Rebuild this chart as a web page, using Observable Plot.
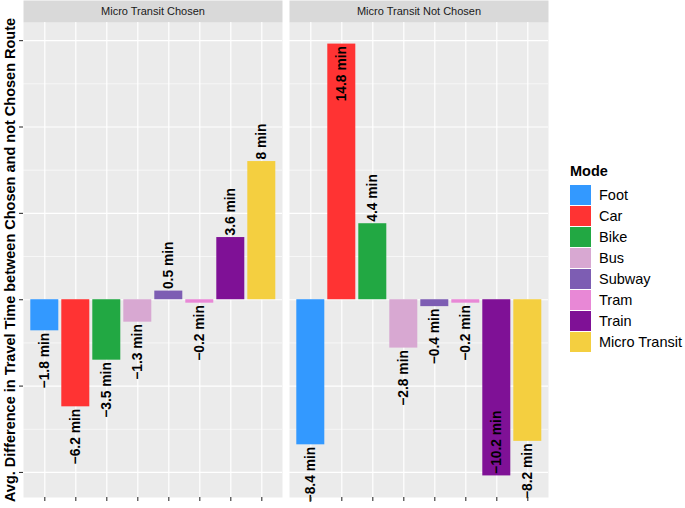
<!DOCTYPE html>
<html>
<head>
<meta charset="utf-8">
<script src="https://cdn.jsdelivr.net/npm/d3@7"></script>
<script src="https://cdn.jsdelivr.net/npm/@observablehq/plot@0.6"></script>
<style>
  body { margin: 0; background: white; font-family: "Liberation Sans", Arial, sans-serif; }
  #wrap { position: relative; width: 685px; height: 508px; }
  #legend { position: absolute; left: 570px; top: 162px; color: #000; }
  #legend .title { font-weight: bold; font-size: 14.5px; height: 22px; line-height: 18px; }
  #legend .row { display: flex; align-items: center; height: 21px; }
  #legend .sw { width: 21px; height: 20px; margin-right: 8px; }
  #legend .lab { font-size: 14.5px; }
</style>
</head>
<body>
<div id="wrap"><div id="chart"></div><div id="legend"></div></div>
<script>
const modes = ["Foot", "Car", "Bike", "Bus", "Subway", "Tram", "Train", "Micro Transit"];
const modeColors = ["#3399FF", "#FF3333", "#22A843", "#D8A8D2", "#7D5DB3", "#E888D6", "#7F1196", "#F4CF40"];
const panels = ["Micro Transit Chosen", "Micro Transit Not Chosen"];
const chosenValues = [-1.8, -6.2, -3.5, -1.3, 0.5, -0.2, 3.6, 8];
const notChosenValues = [-8.4, 14.8, 4.4, -2.8, -0.4, -0.2, -10.2, -8.2];
const majorTicks = [-10, -5, 0, 5, 10, 15];
const minorTicks = [-7.5, -2.5, 2.5, 7.5, 12.5];
const yTitle = "Avg. Difference in Travel Time between Chosen and not Chosen Route";
const legendTitle = "Mode";

const rows = panels.flatMap((p, i) =>
  modes.map((m, j) => ({panel: p, mode: m, value: (i === 0 ? chosenValues : notChosenValues)[j]})));

const [ymin, ymax] = d3.extent(rows, d => d.value);
const pad = (ymax - ymin) * 0.05;
const yDomain = [ymin - pad, ymax + pad];

const W = 555, H = 508, mT = 22, mB = 11, mL = 22.7, mR = 5.7;
const frameH = H - mT - mB;

const big = d => Math.abs(d.value) > 10;
const isStart = d => (d.value > 0) !== big(d);
const fmt = d => (d.value < 0 ? "\u2212" : "") + Math.abs(d.value) + " min";

const labelStyle = {fontSize: 13.8, fontWeight: "bold", fill: "#000", rotate: -90};

const chart = Plot.plot({
  width: W, height: H,
  marginTop: mT, marginBottom: mB, marginLeft: mL, marginRight: mR,
  style: {fontFamily: '"Liberation Sans", Arial, sans-serif', background: "white"},
  fx: {domain: panels, paddingInner: 0.0248, paddingOuter: 0, axis: null, label: null},
  x: {domain: modes, paddingInner: 0.1, paddingOuter: 0.15, label: null},
  y: {domain: yDomain, label: null},
  color: {domain: modes, range: modeColors},
  marks: [
    Plot.frame({fill: "#EBEBEB"}),
    Plot.frame({fill: "#D9D9D9", insetTop: -mT, insetBottom: frameH}),
    Plot.text(panels, {fx: d => d, text: d => d, frameAnchor: "top", lineAnchor: "middle", dy: -11, fontSize: 11, fill: "#1A1A1A"}),
    Plot.ruleY(minorTicks, {stroke: "white", strokeWidth: 0.6}),
    Plot.ruleY(majorTicks, {stroke: "white", strokeWidth: 1.2}),
    Plot.ruleX(modes, {x: d => d, stroke: "white", strokeWidth: 1.2}),
    Plot.barY(rows, {fx: "panel", x: "mode", y: "value", fill: "mode"}),
    Plot.text(rows.filter(isStart), {fx: "panel", x: "mode", y: "value", text: fmt, textAnchor: "start", dy: -2, ...labelStyle}),
    Plot.text(rows.filter(d => !isStart(d)), {fx: "panel", x: "mode", y: "value", text: fmt, textAnchor: "end", dy: 2, ...labelStyle}),
    Plot.axisY(majorTicks, {tickSize: 4, tickFormat: () => "", label: null, stroke: "#333333", strokeWidth: 1.1}),
    Plot.axisX({tickSize: 4, tickFormat: () => "", label: null, stroke: "#333333", strokeWidth: 1.1}),
    Plot.text([yTitle], {fx: () => panels[0], text: d => d, frameAnchor: "left", textAnchor: "middle", lineAnchor: "middle", dx: -12.7, rotate: -90, fontSize: 14.5, fontWeight: "bold", fill: "#000"})
  ]
});
document.getElementById("chart").appendChild(chart);

const legend = document.getElementById("legend");
const t = document.createElement("div");
t.className = "title"; t.textContent = legendTitle;
legend.appendChild(t);
modes.forEach((m, i) => {
  const r = document.createElement("div"); r.className = "row";
  const s = document.createElement("div"); s.className = "sw"; s.style.background = modeColors[i];
  const l = document.createElement("div"); l.className = "lab"; l.textContent = m;
  r.appendChild(s); r.appendChild(l); legend.appendChild(r);
});
</script>
</body>
</html>
